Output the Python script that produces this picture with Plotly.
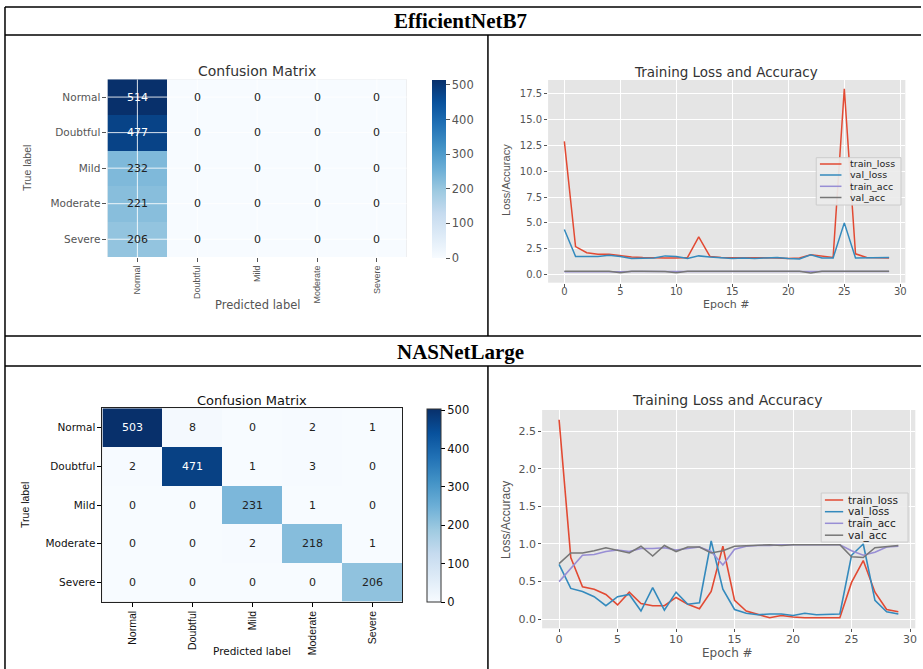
import plotly.graph_objects as go

# ---------------- data ----------------
classes = ["Normal", "Doubtful", "Mild", "Moderate", "Severe"]

cm_effnet = [
    [514, 0, 0, 0, 0],
    [477, 0, 0, 0, 0],
    [232, 0, 0, 0, 0],
    [221, 0, 0, 0, 0],
    [206, 0, 0, 0, 0],
]
cm_nasnet = [
    [503, 8, 0, 2, 1],
    [2, 471, 1, 3, 0],
    [0, 0, 231, 1, 0],
    [0, 0, 2, 218, 1],
    [0, 0, 0, 0, 206],
]

epochs = list(range(30))

eff_train_loss = [12.9, 2.7, 2.1, 1.95, 1.95, 1.8, 1.7, 1.65, 1.6, 1.6,
                  1.6, 1.65, 3.65, 1.75, 1.65, 1.65, 1.65, 1.6, 1.6, 1.6,
                  1.55, 1.6, 1.9, 1.75, 1.65, 18.0, 2.0, 1.65, 1.65, 1.6]
eff_val_loss = [4.35, 1.75, 1.75, 1.75, 1.85, 1.75, 1.55, 1.6, 1.6, 1.8,
                1.75, 1.55, 1.8, 1.7, 1.6, 1.55, 1.6, 1.55, 1.6, 1.65,
                1.55, 1.5, 1.9, 1.6, 1.6, 5.0, 1.6, 1.6, 1.65, 1.65]
eff_train_acc = [0.27, 0.26, 0.28, 0.28, 0.27, 0.26, 0.29, 0.28, 0.28, 0.29,
                 0.27, 0.28, 0.28, 0.28, 0.29, 0.29, 0.28, 0.29, 0.28, 0.29,
                 0.28, 0.29, 0.28, 0.28, 0.28, 0.29, 0.28, 0.29, 0.29, 0.29]
eff_val_acc = [0.31, 0.31, 0.31, 0.31, 0.31, 0.16, 0.31, 0.31, 0.31, 0.29,
               0.16, 0.31, 0.31, 0.31, 0.31, 0.31, 0.31, 0.31, 0.31, 0.31,
               0.31, 0.31, 0.14, 0.31, 0.31, 0.31, 0.31, 0.31, 0.31, 0.31]

nas_train_loss = [2.65, 0.82, 0.43, 0.40, 0.33, 0.19, 0.36, 0.21, 0.18, 0.18,
                  0.29, 0.20, 0.14, 0.37, 0.97, 0.25, 0.11, 0.07, 0.02, 0.05,
                  0.03, 0.02, 0.02, 0.02, 0.02, 0.49, 0.78, 0.36, 0.13, 0.10]
nas_val_loss = [0.73, 0.41, 0.37, 0.30, 0.18, 0.30, 0.33, 0.11, 0.42, 0.12,
                0.36, 0.20, 0.22, 1.04, 0.40, 0.13, 0.08, 0.06, 0.07, 0.07,
                0.05, 0.08, 0.06, 0.07, 0.07, 0.85, 1.00, 0.25, 0.10, 0.07]
nas_train_acc = [0.50, 0.68, 0.85, 0.86, 0.90, 0.92, 0.90, 0.94, 0.94, 0.95,
                 0.92, 0.94, 0.96, 0.90, 0.72, 0.93, 0.97, 0.98, 0.98, 0.99,
                 0.99, 0.99, 0.99, 1.00, 0.99, 0.91, 0.85, 0.89, 0.96, 0.97]
nas_val_acc = [0.74, 0.88, 0.88, 0.91, 0.95, 0.91, 0.88, 0.97, 0.84, 0.98,
               0.90, 0.96, 0.96, 0.88, 0.91, 0.97, 0.98, 0.98, 0.99, 0.98,
               0.99, 0.99, 0.99, 0.99, 0.99, 0.83, 0.82, 0.95, 0.97, 0.98]

series_names = ["train_loss", "val_loss", "train_acc", "val_acc"]
section_titles = ["EfficientNetB7", "NASNetLarge"]

# ---------------- styling ----------------
W, H = 923, 669
def px(x):
    return x / W
def py(y):
    return 1 - y / H

blues = ['rgb(247,251,255)', 'rgb(222,235,247)', 'rgb(198,219,239)',
         'rgb(158,202,225)', 'rgb(107,174,214)', 'rgb(66,146,198)',
         'rgb(33,113,181)', 'rgb(8,81,156)', 'rgb(8,48,107)']
blues_scale = [[i / (len(blues) - 1), c] for i, c in enumerate(blues)]
line_colors = ["#E24A33", "#348ABD", "#988ED5", "#777777"]

SANS = "DejaVu Sans"
NARROW = "Liberation Sans, Arial, sans-serif"
SERIF = "Liberation Serif, Times New Roman, serif"

fig = go.Figure()

# ---------------- confusion matrices ----------------
def add_cm(cm, xa, ya, cb_left, cb_top, cb_len, ggplot):
    zmax = max(max(r) for r in cm)
    idx = list(range(len(classes)))
    fig.add_trace(go.Heatmap(
        z=cm, x=idx, y=idx, colorscale=blues_scale, zmin=0, zmax=zmax,
        xaxis=xa, yaxis=ya, hoverinfo="skip", showlegend=False,
        colorbar=dict(
            x=px(cb_left), xanchor="left", xpad=0,
            y=py(cb_top), yanchor="top", ypad=0,
            len=cb_len, lenmode="pixels", thickness=14, thicknessmode="pixels",
            tickvals=[0, 100, 200, 300, 400, 500], ticks="outside", ticklen=4,
            tickcolor="#555" if ggplot else "#000",
            tickfont=dict(family=SANS, size=11.5, color="#555" if ggplot else "#111"),
            outlinewidth=0 if ggplot else 1, outlinecolor="#333",
        ),
    ))
    for i, row in enumerate(cm):
        for j, v in enumerate(row):
            fig.add_annotation(
                x=j, y=i, xref=xa, yref=ya, text=str(v), showarrow=False,
                font=dict(family=SANS, size=11, color="white" if v > zmax / 2 else "#222"),
            )
    if ggplot:
        for k in idx:
            fig.add_shape(type="line", xref=xa, yref=ya, x0=k, x1=k, y0=-0.5, y1=len(classes) - 0.5,
                          line=dict(color="rgba(255,255,255,0.85)", width=1), layer="above")
            fig.add_shape(type="line", xref=xa, yref=ya, y0=k, y1=k, x0=-0.5, x1=len(classes) - 0.5,
                          line=dict(color="rgba(255,255,255,0.85)", width=1), layer="above")

add_cm(cm_effnet, "x", "y", 433, 80, 178, True)
add_cm(cm_nasnet, "x3", "y3", 428.3, 409, 193, False)

# ---------------- training curves ----------------
def add_curves(series, xa, ya, width):
    for name, vals, col in zip(series_names, series, line_colors):
        fig.add_trace(go.Scatter(
            x=epochs, y=vals, mode="lines", name=name, xaxis=xa, yaxis=ya,
            line=dict(color=col, width=width), hoverinfo="skip", showlegend=False,
        ))

add_curves([eff_train_loss, eff_val_loss, eff_train_acc, eff_val_acc], "x2", "y2", 1.5)
add_curves([nas_train_loss, nas_val_loss, nas_train_acc, nas_val_acc], "x4", "y4", 1.6)

# ---------------- axes ----------------
def cm_axes(xdom, ydom, ggplot, xfs):
    tc = "#555" if ggplot else "#000"
    fc = "#555" if ggplot else "#111"
    xa = dict(domain=xdom, range=[-0.5, 4.5], tickvals=list(range(5)), ticktext=classes,
              tickangle=-90, ticks="outside", ticklen=4, tickcolor=tc,
              tickfont=dict(family=NARROW, size=xfs, color=fc),
              showgrid=False, zeroline=False, fixedrange=True,
              showline=not ggplot, mirror=not ggplot, linecolor="#222", linewidth=1)
    ya = dict(domain=ydom, range=[4.5, -0.5], tickvals=list(range(5)), ticktext=classes,
              ticks="outside", ticklen=4, tickcolor=tc,
              tickfont=dict(family=SANS, size=10.5, color=fc),
              showgrid=False, zeroline=False, fixedrange=True,
              showline=not ggplot, mirror=not ggplot, linecolor="#222", linewidth=1)
    return xa, ya

def curve_axes(xdom, ydom, yrange, ytickvals, fs, xstand):
    xa = dict(domain=xdom, range=[-1.45, 30.45], tickvals=[0, 5, 10, 15, 20, 25, 30],
              ticks="outside", ticklen=3, tickcolor="#555", ticklabelstandoff=xstand,
              tickfont=dict(family=SANS, size=fs, color="#555"),
              showgrid=True, gridcolor="white", gridwidth=1, zeroline=False, showline=False)
    ya = dict(domain=ydom, range=yrange, tickvals=ytickvals, tickformat=".1f",
              ticks="outside", ticklen=3, tickcolor="#555",
              tickfont=dict(family=SANS, size=fs, color="#555"),
              showgrid=True, gridcolor="white", gridwidth=1, zeroline=False, showline=False)
    return xa, ya

x1, y1 = cm_axes([px(107.7), px(407.7)], [py(257), py(79.3)], True, 9)
x3, y3 = cm_axes([px(102.7), px(403.3)], [py(601.7), py(408.3)], False, 10.5)
x2, y2 = curve_axes([px(549.3), px(907.3)], [py(282.7), py(80)], [-0.8, 18.85],
                    [0, 2.5, 5, 7.5, 10, 12.5, 15, 17.5], 10, -4)
x4, y4 = curve_axes([px(543.3), px(917.3)], [py(628.3), py(410)], [-0.12, 2.78],
                    [0, 0.5, 1.0, 1.5, 2.0, 2.5], 11, -3)
y2["anchor"] = "x2"; x2["anchor"] = "y2"
y3["anchor"] = "x3"; x3["anchor"] = "y3"
y4["anchor"] = "x4"; x4["anchor"] = "y4"

fig.update_layout(
    width=W, height=H, margin=dict(l=0, r=0, t=0, b=0),
    paper_bgcolor="white", plot_bgcolor="#E5E5E5",
    xaxis=x1, yaxis=y1, xaxis2=x2, yaxis2=y2, xaxis3=x3, yaxis3=y3, xaxis4=x4, yaxis4=y4,
    showlegend=False,
)

# ---------------- text (titles / axis labels) ----------------
def label(text, x, y, size, color, family=SANS, angle=0, xanchor="center"):
    fig.add_annotation(xref="paper", yref="paper", x=px(x), y=py(y), text=text,
                       showarrow=False, textangle=angle, xanchor=xanchor, yanchor="middle",
                       font=dict(family=family, size=size, color=color))

label("<b>" + section_titles[0] + "</b>", 462, 21, 21, "#000", SERIF)
label("<b>" + section_titles[1] + "</b>", 462, 351.5, 21, "#000", SERIF)

label("Confusion Matrix", 257.7, 70.7, 14, "#333")
label("True label", 27, 168, 10.5, "#555", NARROW, -90)
label("Predicted label", 258, 305, 11.5, "#555")

label("Training Loss and Accuracy", 727.7, 71.7, 13.5, "#333")
label("Loss/Accuracy", 507, 180, 11, "#555", NARROW, -90)
label("Epoch #", 728, 304, 11, "#555")

label("Confusion Matrix", 252.7, 400, 13, "#111")
label("True label", 25, 505, 10.5, "#111", NARROW, -90)
label("Predicted label", 252.7, 651, 10.5, "#111")

label("Training Loss and Accuracy", 729, 400, 14, "#333")
label("Loss/Accuracy", 507, 520, 12, "#555", NARROW, -90)
label("Epoch #", 729, 653, 12, "#555")

# ---------------- legends (matplotlib-style boxes) ----------------
def legend_box(x0, x1, y0, y1, rows, line_x0, line_x1, text_x, fs):
    fig.add_shape(type="rect", xref="paper", yref="paper",
                  x0=px(x0), x1=px(x1), y0=py(y1), y1=py(y0),
                  fillcolor="rgba(236,236,236,0.92)", line=dict(color="#CCCCCC", width=1), layer="above")
    for name, col, yy in zip(series_names, line_colors, rows):
        fig.add_shape(type="line", xref="paper", yref="paper",
                      x0=px(line_x0), x1=px(line_x1), y0=py(yy), y1=py(yy),
                      line=dict(color=col, width=1.5), layer="above")
        label(name, text_x, yy, fs, "#222", SANS, 0, "left")

legend_box(818, 903, 157.7, 205, [164, 175, 186.3, 197.5], 821.7, 843.3, 850, 9.5)
legend_box(823, 910, 493, 542, [500, 511.7, 523.3, 535.2], 826.7, 845, 848, 10.5)

# ---------------- table borders ----------------
border = dict(color="black", width=1.5)
for yy in [7, 35, 336, 366]:
    fig.add_shape(type="line", xref="paper", yref="paper", x0=px(5), x1=1, y0=py(yy), y1=py(yy), line=border)
fig.add_shape(type="line", xref="paper", yref="paper", x0=px(5), x1=px(5), y0=py(7), y1=0, line=border)
fig.add_shape(type="line", xref="paper", yref="paper", x0=px(489), x1=px(489), y0=py(35), y1=py(336), line=border)
fig.add_shape(type="line", xref="paper", yref="paper", x0=px(489), x1=px(489), y0=py(366), y1=0, line=border)

fig.write_html(
    "out.html",
    config={"displayModeBar": False},
    post_script="document.body.style.margin='0';document.body.style.padding='0';"
                "document.body.style.overflow='hidden';",
)
